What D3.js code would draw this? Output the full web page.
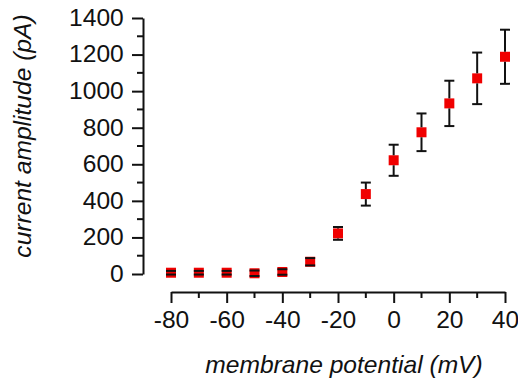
<!DOCTYPE html>
<html><head><meta charset="utf-8">
<script src="https://cdn.jsdelivr.net/npm/d3@7"></script>
<style>
html,body{margin:0;padding:0;background:#fff;}
svg{display:block;}
text{font-family:"Liberation Sans",Arial,sans-serif;fill:#111;}
</style></head>
<body>
<svg id="chart" width="518" height="385"></svg>
<script>
// Data
const voltages = [-80, -70, -60, -50, -40, -30, -20, -10, 0, 10, 20, 30, 40];
const currents = [7, 7, 7, 4, 11, 67, 222, 437, 622, 775, 933, 1070, 1188];
const errors   = [10, 10, 10, 15, 15, 20, 35, 63, 85, 103, 124, 141, 148];
const xTicks = [-80, -60, -40, -20, 0, 20, 40];
const yTicks = [0, 200, 400, 600, 800, 1000, 1200, 1400];
const xTitle = "membrane potential (mV)";
const yTitle = "current amplitude (pA)";

const svg = d3.select("#chart");
const x = d3.scaleLinear().domain([-80, 40]).range([171, 505]);
const y = d3.scaleLinear().domain([0, 1400]).range([274, 18]);
const yAxisX = 143, xAxisY = 292;
const fs = 23, sx = 1.07;
const fmt = d => String(d);

// Y axis
const yAx = svg.append("g").attr("transform", `translate(${yAxisX},0)`)
  .call(d3.axisLeft(y).tickValues(yTicks).tickFormat(fmt).tickSize(11).tickPadding(7).tickSizeOuter(0));
yAx.select(".domain").attr("stroke", "#111").attr("stroke-width", 2);
yAx.selectAll(".tick line").attr("stroke", "#111").attr("stroke-width", 2);
yAx.selectAll(".tick text").attr("font-size", fs).attr("font-family", "Liberation Sans, Arial, sans-serif")
  .attr("fill", "#111").attr("transform", `scale(${sx},1)`);
const yMinor = d3.range(100, 1400, 200);
svg.append("g").selectAll("line").data(yMinor).join("line")
  .attr("x1", yAxisX - 6).attr("x2", yAxisX).attr("y1", d => y(d)).attr("y2", d => y(d))
  .attr("stroke", "#111").attr("stroke-width", 2);

// X axis
const xAx = svg.append("g").attr("transform", `translate(0,${xAxisY})`)
  .call(d3.axisBottom(x).tickValues(xTicks).tickFormat(fmt).tickSize(11).tickPadding(9).tickSizeOuter(0));
xAx.select(".domain").attr("stroke", "#111").attr("stroke-width", 2);
xAx.selectAll(".tick line").attr("stroke", "#111").attr("stroke-width", 2);
xAx.selectAll(".tick text").attr("font-size", fs).attr("font-family", "Liberation Sans, Arial, sans-serif")
  .attr("fill", "#111").attr("transform", `scale(${sx},1)`);
const xMinor = d3.range(-70, 40, 20);
svg.append("g").selectAll("line").data(xMinor).join("line")
  .attr("x1", d => x(d)).attr("x2", d => x(d)).attr("y1", xAxisY).attr("y2", xAxisY + 6)
  .attr("stroke", "#111").attr("stroke-width", 2);

// Titles
svg.append("text").attr("transform", `translate(344,373) scale(${sx},1)`).attr("text-anchor", "middle")
  .attr("font-size", fs).attr("font-style", "italic").text(xTitle);
svg.append("text").attr("transform", `translate(31,136) rotate(-90) scale(${sx},1)`).attr("text-anchor", "middle")
  .attr("font-size", fs).attr("font-style", "italic").text(yTitle);

// Points
const data = voltages.map((v, i) => ({v, c: currents[i], e: errors[i]}));
const half = 5, cap = 5;
const pts = svg.append("g");
pts.selectAll("rect").data(data).join("rect")
  .attr("x", d => x(d.v) - half).attr("y", d => y(d.c) - half)
  .attr("width", 2 * half).attr("height", 2 * half)
  .attr("fill", "#f00000");
const eb = svg.append("g").attr("stroke", "#111").attr("stroke-width", 2);
data.forEach(d => {
  const cx = x(d.v), cy = y(d.c), top = y(d.c + d.e), bot = y(d.c - d.e);
  if (cy - half > top) eb.append("line").attr("x1", cx).attr("x2", cx).attr("y1", top).attr("y2", cy - half);
  if (cy + half < bot) eb.append("line").attr("x1", cx).attr("x2", cx).attr("y1", cy + half).attr("y2", bot);
  eb.append("line").attr("x1", cx - cap).attr("x2", cx + cap).attr("y1", top).attr("y2", top);
  eb.append("line").attr("x1", cx - cap).attr("x2", cx + cap).attr("y1", bot).attr("y2", bot);
});
</script>
</body></html>
